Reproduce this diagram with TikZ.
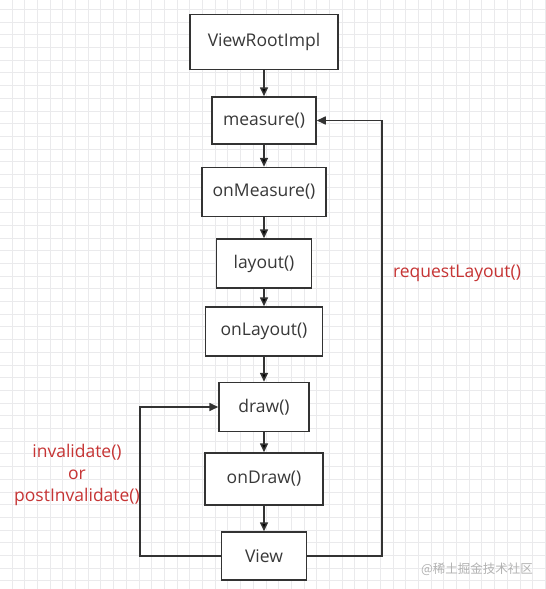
\documentclass[tikz,border=0pt]{standalone}
\usepackage{fontspec}
\setmainfont{Open Sans}
\newfontfamily\cjkfont{Noto Sans CJK SC}
\usetikzlibrary{arrows.meta,positioning}
\definecolor{linegray}{RGB}{51,51,51}
\definecolor{notered}{RGB}{198,52,52}
\definecolor{gridgray}{RGB}{234,234,236}

\begin{document}
\begin{tikzpicture}[->,>={Triangle[length=9pt,width=8pt]},x=1pt,y=-1pt,node distance=72pt,
                    every node/.append style={font=\fontsize{17.5}{22}\selectfont}]
  \tikzstyle{box}=[draw=linegray,line width=1.5pt,fill=white,minimum height=49pt,text=black!78,inner xsep=0pt]
  \tikzstyle{flow}=[draw=linegray,line width=1.6pt]
  \tikzstyle{note}=[text=notered,align=center]

  \useasboundingbox (0,0) rectangle (546,589);
  \fill[white] (0,0) rectangle (546,589);
  % grid paper
  \foreach \x in {11.9,24.6,...,546} \draw[-,gridgray,line width=0.7pt] (\x,0) -- (\x,589);
  \foreach \y in {9.3,22,...,589} \draw[-,gridgray,line width=0.7pt] (0,\y) -- (546,\y);

  \node[box,minimum width=148pt,minimum height=55pt] (vri) at (264,42) {ViewRootImpl};
  \node[box,minimum width=104pt,minimum height=47pt] (measure)   [below of=vri,node distance=78.5pt] {measure()};
  \node[box,minimum width=124pt] (onmeasure) [below of=measure,node distance=71.5pt] {onMeasure()};
  \node[box,minimum width=95pt]  (layout)    [below of=onmeasure,node distance=71.5pt] {layout()};
  \node[box,minimum width=117pt] (onlayout)  [below of=layout,node distance=68pt] {onLayout()};
  \node[box,minimum width=90pt]  (draw)      [below of=onlayout,node distance=75.5pt] {draw()};
  \node[box,minimum width=118pt,minimum height=52pt] (ondraw) [below of=draw] {onDraw()};
  \node[box,minimum width=85pt,minimum height=48pt]  (view)   [below of=ondraw,node distance=77pt] {View};

  \coordinate[right=75pt of view.east] (rback);
  \coordinate[left=81pt of view.west] (lback);

  \path[flow] (vri) edge (measure)
        (measure) edge (onmeasure)
        (onmeasure) edge (layout)
        (layout) edge (onlayout)
        (onlayout) edge (draw)
        (draw) edge (ondraw)
        (ondraw) edge (view);
  \draw[flow] (view.east) -- (rback) |- (measure.east);
  \draw[flow] (view.west) -- (lback) |- (draw.west);

  \node[note] (reqlayout) at (457,273) {requestLayout()};
  \node[note] (invalidate) at (77,475) {invalidate()\\or\\postInvalidate()};
  \node[text=black!30,font=\cjkfont\fontsize{12.5}{14}\selectfont] (mark) at (477,569) {@稀土掘金技术社区};
\end{tikzpicture}
\end{document}
